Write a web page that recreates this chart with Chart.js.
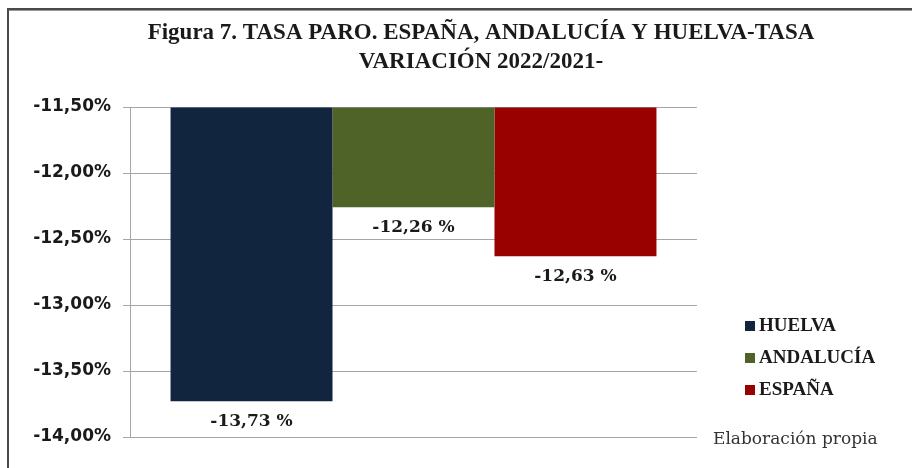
<html>
<head>
    <script src="https://cdn.jsdelivr.net/npm/chart.js@4.4.0/dist/chart.umd.min.js"></script>
    <style>
        body {
            margin: 0;
            background: #ffffff;
        }

        .marco {
            position: relative;
            width: 912px;
            height: 468px;
        }

        .bordeArriba {
            position: absolute;
            left: 7px;
            top: 8px;
            width: 905px;
            height: 2px;
            background: #4a4a4a;
            border-bottom: 1px solid #9a9a9a;
        }

        .bordeIzq {
            position: absolute;
            left: 7px;
            top: 8px;
            width: 2px;
            height: 460px;
            background: #4a4a4a;
        }
    </style>
</head>

<body>
    <div class="marco">
        <canvas id="grafico" width="912" height="468"></canvas>
        <div class="bordeArriba"></div>
        <div class="bordeIzq"></div>
    </div>
</body>
<script>
    // datos
    const territorios = ['HUELVA', 'ANDALUCÍA', 'ESPAÑA'];
    const variaciones = [-13.73, -12.26, -12.63];
    const colores = ['#12253f', '#4f6228', '#990000'];
    const ejeMin = -14.0;
    const ejeMax = -11.5;
    const ejePaso = 0.5;
    const tituloLineas = ['Figura 7. TASA PARO. ESPAÑA, ANDALUCÍA Y HUELVA-TASA', 'VARIACIÓN 2022/2021-'];
    const fuente = 'Elaboración propia';

    const serif = '"Liberation Serif", "Times New Roman", serif';
    const serifAncha = '"DejaVu Serif", "Liberation Serif", serif';

    function formatoComa(v, dec) {
        return v.toFixed(dec).replace('.', ',');
    }

    // etiquetas bajo cada barra, título, leyenda y nota de fuente
    const textosPlugin = {
        id: 'textos',
        afterDatasetsDraw(chart) {
            const ctx = chart.ctx;
            ctx.save();
            ctx.fillStyle = '#1a1a1a';
            ctx.textAlign = 'center';
            ctx.textBaseline = 'middle';
            ctx.font = 'bold 17px ' + serifAncha;
            chart.data.datasets.forEach((ds, i) => {
                const barra = chart.getDatasetMeta(i).data[0];
                ctx.fillText(formatoComa(ds.data[0], 2) + ' %', barra.x, barra.y + 20);
            });
            ctx.restore();
        },
        afterDraw(chart) {
            const ctx = chart.ctx;
            ctx.save();
            ctx.fillStyle = '#1a1a1a';
            ctx.textAlign = 'center';
            ctx.textBaseline = 'alphabetic';
            ctx.font = 'bold 23px ' + serif;
            tituloLineas.forEach((linea, i) => {
                ctx.fillText(linea, 481, 39 + i * 29);
            });

            // leyenda
            ctx.textAlign = 'left';
            ctx.textBaseline = 'middle';
            ctx.font = 'bold 19px ' + serif;
            chart.data.datasets.forEach((ds, i) => {
                const y = 326 + i * 32;
                ctx.fillStyle = ds.backgroundColor;
                ctx.fillRect(745, y - 5, 10, 10);
                ctx.fillStyle = '#1a1a1a';
                ctx.fillText(ds.label, 759, y);
            });

            ctx.font = '17px ' + serifAncha;
            ctx.fillStyle = '#333333';
            ctx.fillText(fuente, 713, 440);
            ctx.restore();
        }
    };

    new Chart(document.getElementById('grafico'), {
        type: 'bar',
        data: {
            labels: [''],
            datasets: territorios.map((t, i) => ({
                label: t,
                data: [variaciones[i]],
                backgroundColor: colores[i],
                base: ejeMax,
                barPercentage: 1,
                categoryPercentage: 0.857
            }))
        },
        options: {
            responsive: false,
            animation: false,
            layout: {
                padding: { top: 107, bottom: 31, left: 0, right: 215 }
            },
            plugins: {
                legend: { display: false },
                title: { display: false },
                tooltip: { enabled: false }
            },
            scales: {
                x: {
                    display: false
                },
                y: {
                    min: ejeMin,
                    max: ejeMax,
                    afterFit: (escala) => { escala.width = 130; },
                    border: { color: '#a6a6a6', width: 1 },
                    grid: {
                        color: '#a6a6a6',
                        tickLength: 7,
                        drawTicks: true
                    },
                    ticks: {
                        stepSize: ejePaso,
                        padding: 12,
                        color: '#1a1a1a',
                        font: { family: '"DejaVu Sans", Verdana, sans-serif', weight: 'bold', size: 17 },
                        callback: (v) => formatoComa(v, 2) + '%'
                    }
                }
            }
        },
        plugins: [textosPlugin]
    });
</script>

</html>
